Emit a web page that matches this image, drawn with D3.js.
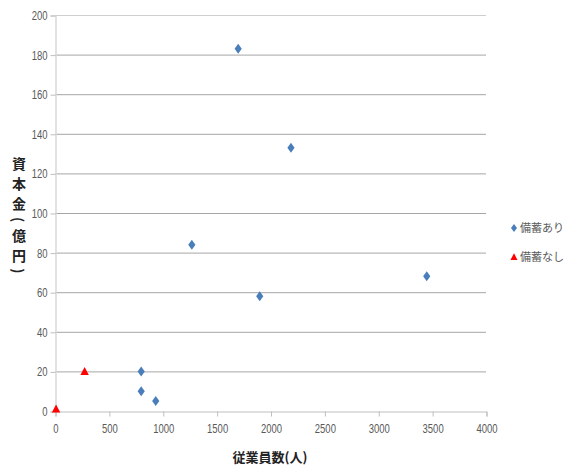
<!DOCTYPE html>
<html><head><meta charset="utf-8">
<script src="https://cdn.jsdelivr.net/npm/d3@7"></script>
<style>
body{margin:0;background:#fff;}
svg{display:block;}
.tick text{font-family:"Liberation Sans",Arial,sans-serif;font-size:12.5px;fill:#595959;}
</style></head>
<body>
<svg id="c" width="565" height="468"></svg>
<script>
const xTicks = [0,500,1000,1500,2000,2500,3000,3500,4000];
const yTicks = [0,20,40,60,80,100,120,140,160,180,200];
const seriesNames = ["備蓄あり","備蓄なし"];
const withStockX = [1700,2190,1270,1900,3450,800,800,935];
const withStockY = [183,133,84,58,68,20,10,5];
const noStockX = [275,10];
const noStockY = [20,1];
const xTitle = "従業員数(人)";
const yTitle = "資本金(億円)";

const svg = d3.select("#c");
const x = d3.scaleLinear().domain([0,4000]).range([55,486]);
const y = d3.scaleLinear().domain([0,200]).range([411,15]);
const sx = 0.76;

// gridlines
svg.append("g").selectAll("line").data(yTicks.filter(d=>d>0)).join("line")
  .attr("x1",55).attr("x2",486)
  .attr("y1",d=>y(d)+0.5).attr("y2",d=>y(d)+0.5)
  .attr("stroke",d=>d===200?"#cfcfcf":"#a6a6a6").attr("stroke-width",1);

// y axis
const ya = svg.append("g").attr("transform","translate(55.5,0.5)")
  .call(d3.axisLeft(y).tickValues(yTicks).tickFormat(d3.format("d")).tickSize(5).tickPadding(3));
ya.select(".domain").attr("stroke","#d9d9d9").attr("stroke-width",1.5);
ya.selectAll(".tick line").attr("stroke","#bfbfbf");
ya.selectAll(".tick text").attr("x",-8/sx).attr("transform",`scale(${sx},1)`);

// x axis
const xa = svg.append("g").attr("transform","translate(0.5,411.5)")
  .call(d3.axisBottom(x).tickValues(xTicks).tickFormat(d3.format("d")).tickSize(5).tickPadding(8));
xa.select(".domain").attr("stroke","#bfbfbf");
xa.selectAll(".tick line").attr("stroke","#bfbfbf");
xa.selectAll(".tick text").attr("transform",`scale(${sx},1)`);

// points
const s1 = withStockX.map((v,i)=>({x:v,y:withStockY[i]}));
const s2 = noStockX.map((v,i)=>({x:v,y:noStockY[i]}));
const diamond = "M0,-5L3.6,0L0,5L-3.6,0Z";
const tri = "M0,-4.5L4.2,3.5L-4.2,3.5Z";
svg.append("g").selectAll("path").data(s1).join("path")
  .attr("d",diamond).attr("fill","#4a7ebb")
  .attr("transform",d=>`translate(${x(d.x)},${y(d.y)})`);
svg.append("g").selectAll("path").data(s2).join("path")
  .attr("d",tri).attr("fill","#ff0000")
  .attr("transform",d=>`translate(${x(d.x)},${y(d.y)})`);

// legend
const lg = svg.append("g");
lg.append("path").attr("d","M0,-4L3,0L0,4L-3,0Z").attr("fill","#4a7ebb").attr("transform","translate(514,228)");
lg.append("path").attr("d","M0,-3.8L3.5,3L-3.5,3Z").attr("fill","#ff0000").attr("transform","translate(514,257)");
lg.selectAll("text").data(seriesNames).join("text")
  .attr("x",520).attr("y",(d,i)=>232+i*29)
  .attr("font-family","'Noto Sans CJK JP',sans-serif").attr("font-size","11px").attr("fill","#595959")
  .text(d=>d);

// titles
svg.append("text").attr("x",270).attr("y",462).attr("text-anchor","middle")
  .attr("font-family","'Noto Sans CJK JP',sans-serif").attr("font-size","13px").attr("font-weight","bold").attr("fill","#222")
  .text(xTitle);
svg.append("text").attr("x",19).attr("y",157)
  .attr("font-family","'Noto Sans CJK JP',sans-serif").attr("font-size","14px").attr("font-weight","bold").attr("fill","#222")
  .style("writing-mode","vertical-rl").style("letter-spacing","6px")
  .text(yTitle);
</script>
</body></html>
